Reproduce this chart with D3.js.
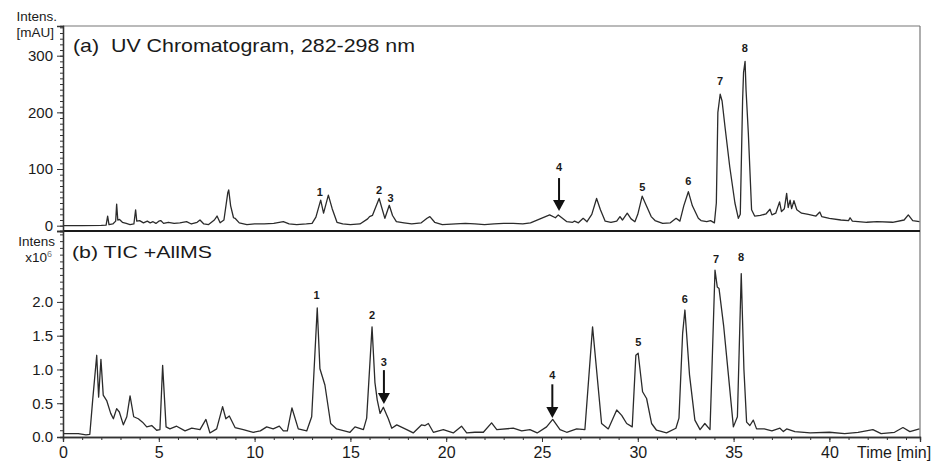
<!DOCTYPE html>
<html>
<head>
<meta charset="utf-8">
<script src="https://cdn.jsdelivr.net/npm/d3@7"></script>
<style>
  body { margin: 0; background: #fff; }
  svg { display: block; font-family: "Liberation Sans", Arial, sans-serif; }
  text { fill: #1a1a1a; }
</style>
</head>
<body>
<svg id="chart" width="933" height="462"></svg>
<script>
var width = 933, height = 462;
var padLeft = 63, padRight = 920, padTop = 26, padMid = 231, padBottom = 437;

// (a) UV trace, time [min] / intensity [mAU]
var uvTime = [0, 1.0, 2.0, 2.25, 2.33, 2.4, 2.6, 2.75, 2.8, 2.86, 2.95, 3.1, 3.3, 3.5, 3.7, 3.79, 3.85, 4.0, 4.2, 4.4,
  4.55, 4.7, 4.85, 5.0, 5.1, 5.25, 5.5, 5.8, 6.1, 6.45, 6.7, 7.0, 7.15, 7.35, 7.6, 7.9, 8.04, 8.2, 8.4, 8.6,
  8.65, 8.75, 8.9, 8.98, 9.2, 9.6, 10.0, 10.5, 11.0, 11.5, 11.8, 12.2, 12.7, 13.0, 13.2, 13.45, 13.6, 13.85, 14.05, 14.3,
  14.6, 15.0, 15.5, 15.9, 16.0, 16.15, 16.5, 16.8, 17.03, 17.2, 17.4, 17.8, 18.2, 18.7, 19.0, 19.15, 19.4, 19.8, 20.5, 21.0,
  21.5, 22.0, 22.5, 23.0, 23.5, 24.0, 24.4, 24.9, 25.4, 25.7, 25.85, 26.0, 26.3, 26.6, 26.7, 26.9, 27.15, 27.35, 27.6, 27.85,
  28.05, 28.3, 28.6, 28.9, 29.07, 29.2, 29.45, 29.65, 29.85, 30.0, 30.23, 30.45, 30.7, 30.9, 31.3, 31.7, 32.0, 32.2, 32.4, 32.64,
  32.85, 33.16, 33.3, 33.6, 33.8, 34.0, 34.1, 34.18, 34.3, 34.4, 34.55, 34.8, 35.07, 35.25, 35.35, 35.47, 35.52, 35.6, 35.65, 35.77,
  35.94, 36.1, 36.4, 36.7, 36.9, 37.0, 37.2, 37.4, 37.5, 37.65, 37.77, 37.85, 37.95, 38.03, 38.15, 38.3, 38.55, 38.9, 39.3, 39.5,
  39.6, 40.0, 40.6, 41.0, 41.08, 41.2, 41.95, 42.5, 43.3, 43.9, 44.12, 44.35, 44.7];
var uvIntens = [0, 0, 0.5, 1, 17, 2, 3, 8, 38, 10, 11, 6, 4, 2, 3, 28, 8, 9, 5, 8,
  5, 7, 4, 8, 9, 4, 6, 4, 5, 7, 3, 6, 10, 3, 2, 10, 17, 5, 10, 58,
  63, 35, 14, 13, 5, 2, 3, 3, 4, 7, 3, 2, 3, 4, 15, 45, 22, 54, 30, 6,
  3, 2, 3, 12, 16, 18, 48, 13, 36, 18, 7, 5, 3, 5, 13, 16, 6, 2, 3, 4,
  3, 2, 3, 4, 4, 3, 5, 12, 19, 14, 19, 15, 7, 6, 8, 5, 13, 7, 20, 48,
  28, 8, 6, 8, 16, 10, 22, 12, 7, 20, 52, 35, 16, 9, 4, 5, 13, 8, 35, 60,
  35, 13, 9, 7, 9, 5, 40, 200, 232, 220, 175, 104, 40, 13, 20, 220, 270, 290, 240, 163,
  28, 17, 18, 21, 29, 19, 22, 42, 25, 30, 57, 32, 45, 30, 44, 28, 22, 20, 17, 24,
  16, 13, 10, 9, 14, 8, 6, 7, 6, 10, 19, 9, 7];

// (b) TIC trace, time [min] / intensity [x10^6]
var ticTime = [0, 0.8, 1.2, 1.4, 1.55, 1.76, 1.86, 1.98, 2.1, 2.28, 2.49, 2.63, 2.8, 2.94, 3.15, 3.33, 3.5, 3.69, 3.93, 4.15,
  4.37, 4.63, 4.89, 5.06, 5.2, 5.38, 5.58, 5.93, 6.37, 6.72, 7.15, 7.46, 7.67, 8.02, 8.33, 8.5, 8.68, 8.98, 9.41, 9.93,
  10.3, 10.63, 10.97, 11.29, 11.5, 11.71, 11.95, 12.28, 12.72, 12.98, 13.27, 13.41, 13.67, 13.97, 14.28, 14.98, 15.24, 15.68, 15.85, 16.13,
  16.28, 16.4, 16.55, 16.72, 16.98, 17.16, 17.42, 17.94, 18.28, 18.72, 18.9, 19.07, 19.33, 19.85, 20.37, 20.8, 21.07, 21.5, 21.94, 22.37,
  22.64, 23.5, 23.94, 24.37, 24.75, 25.24, 25.56, 25.94, 26.29, 26.81, 27.24, 27.64, 28.11, 28.46, 28.9, 29.16, 29.42, 29.71, 29.9, 30.02,
  30.25, 30.46, 30.72, 30.98, 31.5, 31.99, 32.15, 32.34, 32.46, 32.7, 32.98, 33.25, 33.5, 33.77, 33.86, 34.03, 34.15, 34.24, 34.48, 34.73,
  34.99, 35.2, 35.4, 35.54, 35.68, 35.85, 36.03, 36.2, 36.6, 37.0, 37.42, 37.6, 37.77, 38.2, 39.0, 40.0, 40.8, 41.5, 42.27, 42.7,
  43.4, 43.84, 44.2, 44.7];
var ticIntens = [0.05, 0.05, 0.03, 0.04, 0.55, 1.21, 0.59, 1.15, 0.62, 0.54, 0.35, 0.27, 0.42, 0.37, 0.18, 0.3, 0.61, 0.3, 0.27, 0.22,
  0.15, 0.17, 0.1, 0.11, 1.06, 0.15, 0.12, 0.16, 0.09, 0.13, 0.11, 0.26, 0.06, 0.12, 0.45, 0.27, 0.31, 0.14, 0.11, 0.07,
  0.09, 0.15, 0.12, 0.16, 0.09, 0.09, 0.43, 0.12, 0.09, 0.3, 1.91, 1.01, 0.77, 0.2, 0.12, 0.07, 0.15, 0.11, 0.28, 1.63,
  0.81, 0.55, 0.35, 0.44, 0.27, 0.13, 0.18, 0.11, 0.06, 0.18, 0.17, 0.2, 0.07, 0.11, 0.06, 0.16, 0.06, 0.07, 0.07, 0.21,
  0.11, 0.13, 0.09, 0.11, 0.06, 0.15, 0.26, 0.11, 0.07, 0.12, 0.11, 1.63, 0.2, 0.12, 0.4, 0.32, 0.2, 0.15, 1.21, 1.24,
  0.67, 0.57, 0.2, 0.1, 0.06, 0.13, 0.28, 1.53, 1.88, 0.92, 0.25, 0.11, 0.2, 0.11, 0.9, 2.47, 2.22, 2.2, 1.65, 0.92,
  0.15, 0.3, 2.42, 1.0, 0.22, 0.17, 0.25, 0.12, 0.12, 0.09, 0.13, 0.08, 0.12, 0.08, 0.06, 0.07, 0.05, 0.07, 0.11, 0.05,
  0.07, 0.14, 0.08, 0.12];

// peak numbers: label anchor (time, intensity) for each panel
var peakNames = ["1", "2", "3", "4", "5", "6", "7", "8"];
var uvLabelTime = [13.41, 16.49, 17.1, 25.89, 30.23, 32.64, 34.29, 35.59];
var uvLabelIntens = [52, 56, 42, 97, 61, 72, 249, 306];
var ticLabelTime = [13.24, 16.13, 16.75, 25.54, 30.03, 32.46, 34.08, 35.39];
var ticLabelIntens = [2.04, 1.74, 1.05, 0.855, 1.34, 1.98, 2.58, 2.6];

// arrows: [time, tail, tip]
var uvArrows = [[25.89, 84, 26]];
var ticArrows = [[16.75, 0.99, 0.49], [25.54, 0.78, 0.28]];

var xTicks = [0, 5, 10, 15, 20, 25, 30, 35, 40];
var uvTicks = [0, 100, 200, 300];
var ticTicks = [0.0, 0.5, 1.0, 1.5, 2.0];

var svg = d3.select("#chart");

var x = d3.scaleLinear().domain([0, 44.73]).range([padLeft, padRight]);
var yUV = d3.scaleLinear().domain([-9.4, 352.4]).range([padMid, padTop]);
var yTIC = d3.scaleLinear().domain([0, 3.05]).range([padBottom, padMid]);

var uvData = uvTime.map(function(t, i) { return [t, uvIntens[i]]; });
var ticData = ticTime.map(function(t, i) { return [t, ticIntens[i]]; });

// frame
svg.append("line").attr("x1", padLeft).attr("x2", padRight).attr("y1", padTop).attr("y2", padTop)
  .attr("stroke", "#777").attr("stroke-width", 1.2);
svg.append("line").attr("x1", padRight).attr("x2", padRight).attr("y1", padTop).attr("y2", padBottom)
  .attr("stroke", "#777").attr("stroke-width", 1.2);

// traces
svg.append("path")
  .datum(uvData)
  .attr("fill", "none")
  .attr("stroke", "#2b2b2b")
  .attr("stroke-width", 1.3)
  .attr("stroke-linejoin", "round")
  .attr("d", d3.line().x(function(d) { return x(d[0]); }).y(function(d) { return yUV(d[1]); }));

svg.append("path")
  .datum(ticData)
  .attr("fill", "none")
  .attr("stroke", "#2b2b2b")
  .attr("stroke-width", 1.3)
  .attr("stroke-linejoin", "round")
  .attr("d", d3.line().x(function(d) { return x(d[0]); }).y(function(d) { return yTIC(d[1]); }));

// divider between the panels
svg.append("line").attr("x1", padLeft).attr("x2", padRight).attr("y1", padMid).attr("y2", padMid)
  .attr("stroke", "#1a1a1a").attr("stroke-width", 2);

function styleAxis(g) {
  g.selectAll("path.domain").attr("stroke", "#333").attr("stroke-width", 1.3);
  g.selectAll(".tick line").attr("stroke", "#333");
  g.selectAll(".tick text").attr("fill", "#1a1a1a").style("font-size", "15px")
    .style("font-family", "'Liberation Sans', Arial, sans-serif");
}

// y axis (a)
var gUV = svg.append("g").attr("transform", "translate(" + padLeft + ",0)");
gUV.append("g")
  .call(d3.axisLeft(yUV).tickValues(d3.range(0, 351, 10)).tickSize(3).tickFormat(""))
  .call(styleAxis);
gUV.append("g")
  .call(d3.axisLeft(yUV).tickValues(uvTicks).tickSize(6).tickPadding(4))
  .call(styleAxis);

// y axis (b)
var gTIC = svg.append("g").attr("transform", "translate(" + padLeft + ",0)");
gTIC.append("g")
  .call(d3.axisLeft(yTIC).tickValues(d3.range(0, 31).map(function(v) { return v / 10; })).tickSize(3).tickFormat(""))
  .call(styleAxis);
gTIC.append("g")
  .call(d3.axisLeft(yTIC).tickValues(ticTicks).tickSize(6).tickPadding(4).tickFormat(d3.format(".1f")))
  .call(styleAxis);

// x axis
var gX = svg.append("g").attr("transform", "translate(0," + padBottom + ")");
gX.append("g")
  .call(d3.axisBottom(x).tickValues(d3.range(0, 45)).tickSize(3).tickFormat(""))
  .call(styleAxis);
gX.append("g")
  .call(d3.axisBottom(x).tickValues(xTicks).tickSize(5).tickPadding(5))
  .call(styleAxis);
gX.selectAll(".tick text").style("font-size", "16px");

// axis titles
svg.append("text").attr("x", 857).attr("y", 458).style("font-size", "16px").text("Time [min]");

svg.append("text").attr("x", 57).attr("y", 21).attr("text-anchor", "end").style("font-size", "13.5px").text("Intens.");
svg.append("text").attr("x", 54).attr("y", 37).attr("text-anchor", "end").style("font-size", "13.5px").text("[mAU]");

svg.append("text").attr("x", 55).attr("y", 246).attr("text-anchor", "end").style("font-size", "13.5px").text("Intens");
var xl = svg.append("text").attr("x", 52).attr("y", 262).attr("text-anchor", "end").style("font-size", "13.5px");
xl.append("tspan").text("x10");
xl.append("tspan").attr("dy", -5).style("font-size", "9px").style("fill", "#777").text("6");

// panel titles
svg.append("text").attr("x", 73).attr("y", 52).style("font-size", "19px")
  .attr("xml:space", "preserve").style("white-space", "pre")
  .attr("textLength", 342).attr("lengthAdjust", "spacingAndGlyphs")
  .text("(a)  UV Chromatogram, 282-298 nm");
svg.append("text").attr("x", 72).attr("y", 258).style("font-size", "17px")
  .attr("textLength", 140).attr("lengthAdjust", "spacingAndGlyphs")
  .text("(b) TIC +AllMS");

// peak numbers
svg.selectAll(".uv-label")
  .data(peakNames)
  .enter().append("text")
    .attr("class", "uv-label")
    .attr("x", function(d, i) { return x(uvLabelTime[i]); })
    .attr("y", function(d, i) { return yUV(uvLabelIntens[i]); })
    .attr("text-anchor", "middle")
    .style("font-size", "11px")
    .style("font-weight", "bold")
    .text(function(d) { return d; });

svg.selectAll(".tic-label")
  .data(peakNames)
  .enter().append("text")
    .attr("class", "tic-label")
    .attr("x", function(d, i) { return x(ticLabelTime[i]); })
    .attr("y", function(d, i) { return yTIC(ticLabelIntens[i]); })
    .attr("text-anchor", "middle")
    .style("font-size", "11px")
    .style("font-weight", "bold")
    .text(function(d) { return d; });

// arrows
function drawArrows(list, yScale) {
  list.forEach(function(a) {
    var ax = x(a[0]), y0 = yScale(a[1]), y1 = yScale(a[2]);
    svg.append("line").attr("x1", ax).attr("x2", ax).attr("y1", y0).attr("y2", y1 - 8)
      .attr("stroke", "#111").attr("stroke-width", 2);
    svg.append("path")
      .attr("d", "M" + (ax - 6) + "," + (y1 - 11) + "L" + (ax + 6) + "," + (y1 - 11) + "L" + ax + "," + y1 + "Z")
      .attr("fill", "#111");
  });
}
drawArrows(uvArrows, yUV);
drawArrows(ticArrows, yTIC);
</script>
</body>
</html>
